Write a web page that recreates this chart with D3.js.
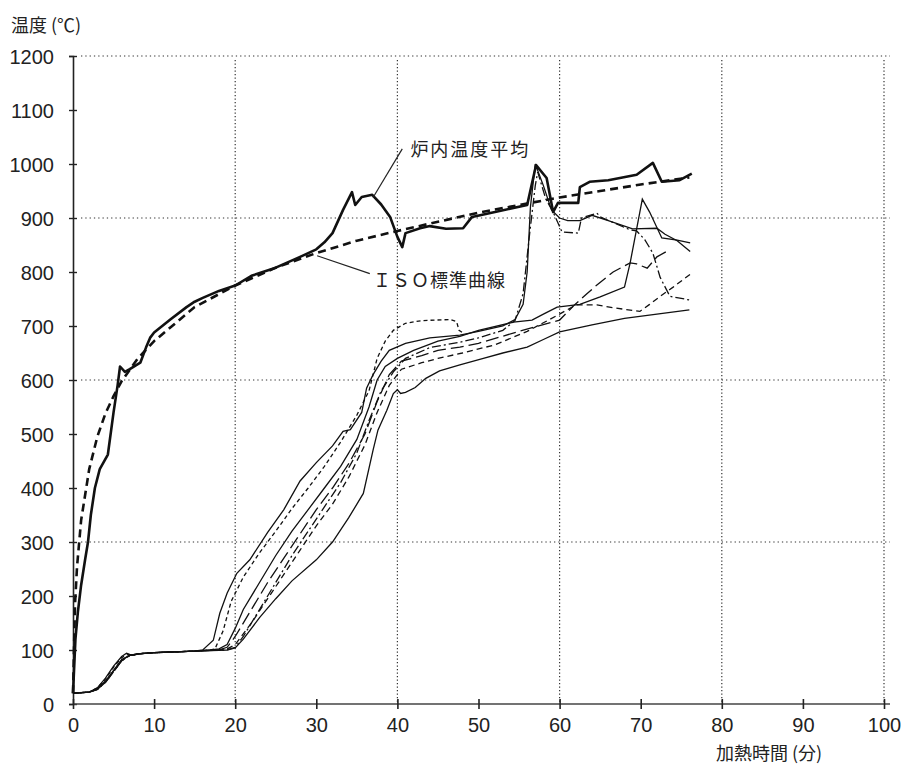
<!doctype html>
<html>
<head>
<meta charset="utf-8">
<title>加熱温度</title>
<script src="https://cdn.jsdelivr.net/npm/d3@7"></script>
<style>
  body { margin: 0; background: #fff; }
  .tick text { font-family: "Liberation Sans", Arial, sans-serif; font-size: 20px; fill: #222; }
  .jp { font-family: "Noto Sans CJK JP", sans-serif; fill: #222; }
</style>
</head>
<body>
<svg width="905" height="768"></svg>
<script>
// tick labels
var xTicks = [0, 10, 20, 30, 40, 50, 60, 70, 80, 90, 100];
var yTicks = [0, 100, 200, 300, 400, 500, 600, 700, 800, 900, 1000, 1100, 1200];
var xGrid = [20, 40, 60, 80, 100];
var yGrid = [300, 600, 900, 1200];

// [minutes, deg C]
var furnace = [[0,20],[0.3,120],[0.6,170],[1,220],[1.5,268],[1.85,300],[2.2,350],[2.7,400],[3.3,435],[4.3,462],[5,540],[5.5,590],[5.8,625],[6.4,615],[7,620],[8.3,632],[9,660],[9.5,678],[10,688],[12,712],[14,735],[15,745],[16,752],[18,765],[20,775],[22,793],[25,808],[28,828],[30,842],[31,855],[32,872],[33.3,915],[34.4,948],[34.8,924],[35.6,939],[36.9,943],[38,925],[39.1,902],[40,865],[40.6,846],[41,872],[42.8,881],[44,885],[46,880],[48.1,881],[49.2,902],[52.6,913],[56,924],[57.1,998],[58.4,974],[59.2,911],[59.8,928],[62.3,928],[62.5,957],[63.7,967],[66,970],[69.5,980],[71.5,1002],[72.6,967],[74.8,970],[76.3,982]];

var iso = [[0,20],[0.25,185],[0.5,255],[1,340],[2,435],[3,495],[4,538],[5,570],[6,598],[8,640],[10,672],[15,735],[20,775],[25,808],[30,835],[35,858],[40,876],[45,893],[50,910],[55,924],[60,938],[65,950],[70,962],[76,975]];

var tcSolidLow = [[0,20],[2,22],[3,28],[4,42],[5,62],[6,82],[7,90],[8,93],[10,95],[15,98],[19,100],[20,104],[21,120],[23,160],[25,195],[27,228],[30,267],[32,300],[34,345],[35.8,390],[37,470],[37.6,507],[38.7,544],[39.5,575],[40,582],[40.4,575],[41,577],[42.2,586],[43.5,603],[45.2,617],[47.7,628],[50.6,640],[53,650],[56,661],[58,675],[60,689],[64,702],[68,714],[72,722],[76,730]];

var tcSolidRise = [[0,20],[2,22],[3,30],[4,48],[5,70],[6,88],[6.6,94],[7.3,90],[8,93],[10,95],[15,98],[16,100],[17.3,118],[18.1,168],[19,205],[20.2,242],[21.8,267],[24,318],[26,360],[28,413],[30,447],[32,478],[33.3,505],[34.2,508],[35.6,540],[36.2,585],[37,610],[38,635],[39,655],[41,668],[44,678],[47.7,683],[50,690],[53,700],[54.5,712],[55.5,740],[56,800],[56.4,920],[57,1000],[58,960],[59,915],[60,900],[61,895],[62.5,895],[64,905],[66,895],[69,880],[72,881],[73,870],[74.5,858],[76.1,838]];

var tcSolidPeak = [[0,20],[2,22],[3,28],[4,42],[5,62],[6,82],[7,90],[8,93],[10,95],[15,98],[17,100],[18,102],[19,110],[20,140],[21,175],[23,225],[25,275],[27,320],[29,360],[31,400],[33,440],[35,490],[36.5,550],[37.5,600],[38.5,625],[40,640],[42,655],[45,672],[47.7,681],[50,692],[54.3,707],[56.6,711],[58,722],[59.7,735],[62.5,740],[65,754],[68,772],[68.7,817],[69.5,880],[70.2,935],[71.1,911],[72.6,863],[74.5,859],[76.1,854]];

var tcShortDash = [[0,20],[2,22],[3,30],[4,46],[5,68],[6,86],[6.8,92],[7.5,90],[8,93],[10,95],[15,98],[17,100],[17.5,102],[18.5,135],[19.5,190],[21,235],[23,280],[25,320],[27,362],[29,400],[31,440],[33,485],[35,535],[36.5,580],[37.5,640],[38.5,672],[39.5,692],[41,705],[43,710],[46.5,712],[47.3,708],[47.6,692],[48,688]];

var tcLongDash = [[0,20],[2,22],[3,27],[4,40],[5,60],[6,80],[7,90],[8,93],[10,95],[15,98],[18,100],[19,105],[20,125],[22,175],[24,225],[26,270],[28,315],[30,360],[32,400],[34,445],[36,500],[37.5,560],[39,610],[40.5,635],[43,645],[45,655],[47.7,661],[50,668],[55,690],[60,711],[61.9,740],[63.4,760],[64.6,776],[66.6,800],[68.7,817],[69.5,815],[70.8,807],[72,828],[73.4,840]];

var tcMedDash = [[0,20],[2,22],[3,27],[4,40],[5,60],[6,80],[7,90],[8,93],[10,95],[15,98],[18,100],[19,102],[20,110],[22,150],[24,195],[26,240],[28,285],[30,330],[32,370],[34,420],[36,480],[37.5,540],[39,590],[40.5,620],[43,632],[45,640],[48,650],[52,665],[56,690],[60,722],[62,739],[64.6,739],[67,733],[69.9,727],[71.1,740],[72.4,755],[74,772],[76.3,798]];

var tcDashDot = [[0,20],[2,22],[3,27],[4,40],[5,60],[6,80],[7,90],[8,93],[10,95],[15,98],[18,100],[19,100],[20,105],[21,125],[23,175],[25,225],[27,275],[29,320],[31,365],[33,410],[35,465],[36.5,525],[38,580],[39.5,615],[41,640],[44,660],[47.7,670],[50,678],[53,692],[54.5,710],[55.5,760],[56.3,870],[57,960],[57.3,985],[57.8,960],[58.3,935],[59.2,911],[60.3,874],[62.3,872],[62.7,900],[64.6,909],[65,902],[68.7,878],[69.5,876],[70.5,860],[71.5,835],[72.4,790],[73.6,755],[76.1,748]];

var svg = d3.select("svg");
var x = d3.scaleLinear().domain([0, 100]).range([73, 884]);
var y = d3.scaleLinear().domain([0, 1200]).range([704, 56]);

// dotted grid
svg.selectAll("line.hgrid").data(yGrid).enter().append("line")
    .attr("x1", x(0) + 8).attr("x2", x(100) + 6)
    .attr("y1", function(d) { return y(d); }).attr("y2", function(d) { return y(d); })
    .attr("stroke", "#333").attr("stroke-width", 1.2).attr("stroke-dasharray", "1.3,3");
svg.selectAll("line.vgrid").data(xGrid).enter().append("line")
    .attr("x1", function(d) { return x(d); }).attr("x2", function(d) { return x(d); })
    .attr("y1", y(1200) + 4).attr("y2", y(0))
    .attr("stroke", "#333").attr("stroke-width", 1.2).attr("stroke-dasharray", "1.3,2.2");

// axes
var yAxis = svg.append("g").attr("transform", "translate(" + x(0) + ",0)")
    .call(d3.axisLeft(y).tickValues(yTicks).tickFormat(d3.format("d")).tickSize(4).tickPadding(15));
var xAxis = svg.append("g").attr("transform", "translate(0," + y(0) + ")")
    .call(d3.axisBottom(x).tickValues(xTicks).tickFormat(d3.format("d")).tickSize(5).tickPadding(9));
yAxis.select(".domain").attr("stroke", "#222").attr("stroke-width", 1.6);
xAxis.select(".domain").attr("stroke", "#444").attr("stroke-width", 1.4).attr("d", "M" + x(0) + ",0H" + (x(100) + 6));
yAxis.selectAll(".tick line").attr("x1", 4).attr("x2", -4).attr("stroke", "#222").attr("stroke-width", 1.4);
xAxis.selectAll(".tick line").attr("y1", -5).attr("y2", 5).attr("stroke", "#222").attr("stroke-width", 1.6);
yAxis.selectAll(".tick text").attr("dy", "0.36em");

// curves
var line = d3.line()
    .x(function(d) { return x(d[0]); })
    .y(function(d) { return y(d[1]); });

var thin = [
    { data: tcSolidLow, dash: null },
    { data: tcSolidRise, dash: null },
    { data: tcSolidPeak, dash: null },
    { data: tcShortDash, dash: "4,3" },
    { data: tcLongDash, dash: "13,5" },
    { data: tcMedDash, dash: "6,4" },
    { data: tcDashDot, dash: "9,3,2,3" }
];
thin.forEach(function(s) {
    svg.append("path").attr("d", line(s.data))
        .attr("fill", "none").attr("stroke", "#111").attr("stroke-width", 1.3)
        .attr("stroke-dasharray", s.dash);
});

svg.append("path").attr("d", line(iso))
    .attr("fill", "none").attr("stroke", "#111").attr("stroke-width", 2.6)
    .attr("stroke-dasharray", "8,5");
svg.append("path").attr("d", line(furnace))
    .attr("fill", "none").attr("stroke", "#111").attr("stroke-width", 2.6)
    .attr("stroke-linejoin", "round");

// annotations
svg.append("line").attr("x1", x(40.6)).attr("y1", y(1028)).attr("x2", x(37.0)).attr("y2", y(938))
    .attr("stroke", "#222").attr("stroke-width", 1.2);
svg.append("text").attr("class", "jp").attr("x", x(41.6)).attr("y", y(1015))
    .attr("font-size", 18).attr("letter-spacing", 2).text("炉内温度平均");

svg.append("line").attr("x1", x(36.6)).attr("y1", y(797)).attr("x2", x(30.1)).attr("y2", y(830))
    .attr("stroke", "#222").attr("stroke-width", 1.2);
svg.append("text").attr("class", "jp").attr("x", x(37.0)).attr("y", y(773))
    .attr("font-size", 18).attr("letter-spacing", 1).text("ＩＳＯ標準曲線");

// axis titles
svg.append("text").attr("class", "jp").attr("x", 11).attr("y", 32)
    .attr("font-size", 18).text("温度 (℃)");
svg.append("text").attr("class", "jp").attr("x", 716).attr("y", 760)
    .attr("font-size", 18).text("加熱時間 (分)");
</script>
</body>
</html>
